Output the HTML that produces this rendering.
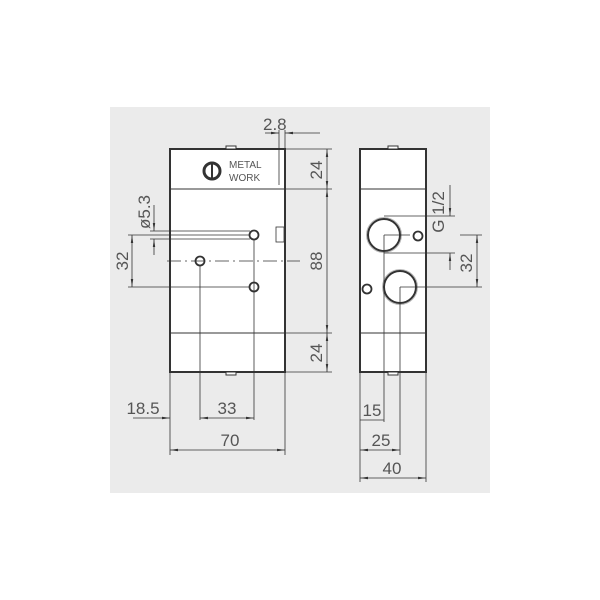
<!DOCTYPE html><html><head><style>body{margin:0;background:#fff}svg{display:block}text{font-family:"Liberation Sans",sans-serif;fill:#555;font-size:17px}</style></head><body>
<svg width="600" height="600" viewBox="0 0 600 600">
<rect x="110" y="107" width="380" height="386" fill="#ebebeb"/>
<defs><marker id="a" markerWidth="10" markerHeight="6" refX="10" refY="3" orient="auto-start-reverse"><path d="M0,1.5L10,3L0,4.5z" fill="#333"/></marker></defs>
<g stroke="#333" fill="none">
<rect x="170" y="149" width="115" height="223" fill="#fff" stroke-width="2"/>
<rect x="226" y="146" width="10" height="3" fill="#fff" stroke-width="1"/>
<rect x="226" y="372" width="10" height="3" fill="#fff" stroke-width="1"/>
<line x1="170" y1="189" x2="285" y2="189"/><line x1="170" y1="333" x2="285" y2="333"/>
<rect x="276" y="227" width="8" height="15" stroke-width="0.8"/>
<circle cx="254" cy="235" r="4.5" stroke-width="1.8"/><circle cx="200" cy="261" r="4.5" stroke-width="1.8"/><circle cx="254" cy="287" r="4.5" stroke-width="1.8"/>
<line x1="167" y1="261" x2="300" y2="261" stroke-dasharray="14,4,2,4" stroke-width="0.8"/>
<g stroke-width="0.8">
<line x1="254" y1="240" x2="254" y2="420"/><line x1="200" y1="266" x2="200" y2="420"/>
<line x1="170" y1="372" x2="170" y2="455"/><line x1="285" y1="372" x2="285" y2="455"/>
<line x1="133" y1="418" x2="170" y2="418" marker-end="url(#a)"/><line x1="200" y1="418" x2="254" y2="418" marker-start="url(#a)" marker-end="url(#a)"/>
<line x1="170" y1="450" x2="285" y2="450" marker-start="url(#a)" marker-end="url(#a)"/>
<line x1="285" y1="149" x2="332" y2="149"/><line x1="285" y1="189" x2="332" y2="189"/><line x1="285" y1="333" x2="332" y2="333"/><line x1="285" y1="372" x2="332" y2="372"/>
<line x1="327" y1="149" x2="327" y2="189" marker-start="url(#a)" marker-end="url(#a)"/><line x1="327" y1="189" x2="327" y2="333" marker-start="url(#a)" marker-end="url(#a)"/><line x1="327" y1="333" x2="327" y2="372" marker-start="url(#a)" marker-end="url(#a)"/>
<line x1="279" y1="130" x2="279" y2="185"/><line x1="285" y1="130" x2="285" y2="149"/>
<line x1="265" y1="133" x2="279" y2="133" marker-end="url(#a)"/><line x1="285" y1="133" x2="320" y2="133" marker-start="url(#a)"/>
<line x1="150" y1="231" x2="250" y2="231"/><line x1="150" y1="239" x2="250" y2="239"/>
<line x1="154" y1="205" x2="154" y2="231" marker-end="url(#a)"/><line x1="154" y1="239" x2="154" y2="255" marker-start="url(#a)"/>
<line x1="128" y1="235" x2="250" y2="235"/><line x1="128" y1="287" x2="250" y2="287"/>
<line x1="132" y1="235" x2="132" y2="287" marker-start="url(#a)" marker-end="url(#a)"/>
</g>
<circle cx="212" cy="171" r="8" stroke-width="3"/><line x1="212" y1="163" x2="212" y2="179" stroke-width="2"/>
<rect x="360" y="149" width="66" height="223" fill="#fff" stroke-width="2"/>
<rect x="388" y="146" width="10" height="3" fill="#fff" stroke-width="1"/>
<rect x="388" y="372" width="10" height="3" fill="#fff" stroke-width="1"/>
<line x1="360" y1="189" x2="426" y2="189"/><line x1="360" y1="333" x2="426" y2="333"/>
<circle cx="384" cy="235" r="17.5" stroke="#bbb" stroke-width="1"/><circle cx="384" cy="235" r="16" stroke-width="2"/>
<circle cx="400" cy="287" r="17.5" stroke="#bbb" stroke-width="1"/><circle cx="400" cy="287" r="16" stroke-width="2"/>
<circle cx="418" cy="236" r="4.5" stroke-width="1.8"/><circle cx="367" cy="289" r="4.5" stroke-width="1.8"/>
<g stroke-width="0.8">
<line x1="384" y1="235" x2="410" y2="235"/><line x1="400" y1="287" x2="482" y2="287"/>
<line x1="384" y1="216" x2="455" y2="216"/><line x1="384" y1="253" x2="455" y2="253"/>
<line x1="450" y1="185" x2="450" y2="216" marker-end="url(#a)"/><line x1="450" y1="253" x2="450" y2="270" marker-start="url(#a)"/>
<line x1="460" y1="235" x2="482" y2="235"/>
<line x1="477" y1="235" x2="477" y2="287" marker-start="url(#a)" marker-end="url(#a)"/>
<line x1="384" y1="235" x2="384" y2="422"/><line x1="400" y1="287" x2="400" y2="455"/>
<line x1="360" y1="372" x2="360" y2="482"/><line x1="426" y1="372" x2="426" y2="482"/>
<line x1="360" y1="420" x2="384" y2="420"/>
<line x1="360" y1="450" x2="400" y2="450" marker-start="url(#a)" marker-end="url(#a)"/>
<line x1="360" y1="478" x2="426" y2="478" marker-start="url(#a)" marker-end="url(#a)"/>
</g>
</g>
<text x="229" y="168" style="font-size:10px">METAL</text><text x="229" y="181" style="font-size:10px">WORK</text>
<text x="263" y="130">2.8</text>
<text transform="translate(322,170) rotate(-90)" text-anchor="middle">24</text>
<text transform="translate(322,261) rotate(-90)" text-anchor="middle">88</text>
<text transform="translate(322,353) rotate(-90)" text-anchor="middle">24</text>
<text transform="translate(150,212) rotate(-90)" text-anchor="middle">ø5.3</text>
<text transform="translate(128,261) rotate(-90)" text-anchor="middle">32</text>
<text x="143" y="414" text-anchor="middle">18.5</text>
<text x="227" y="414" text-anchor="middle">33</text>
<text x="230" y="446" text-anchor="middle">70</text>
<text transform="translate(444,212) rotate(-90)" text-anchor="middle">G 1/2</text>
<text transform="translate(472,263) rotate(-90)" text-anchor="middle">32</text>
<text x="372" y="416" text-anchor="middle">15</text>
<text x="381" y="446" text-anchor="middle">25</text>
<text x="392" y="474" text-anchor="middle">40</text>
</svg></body></html>
